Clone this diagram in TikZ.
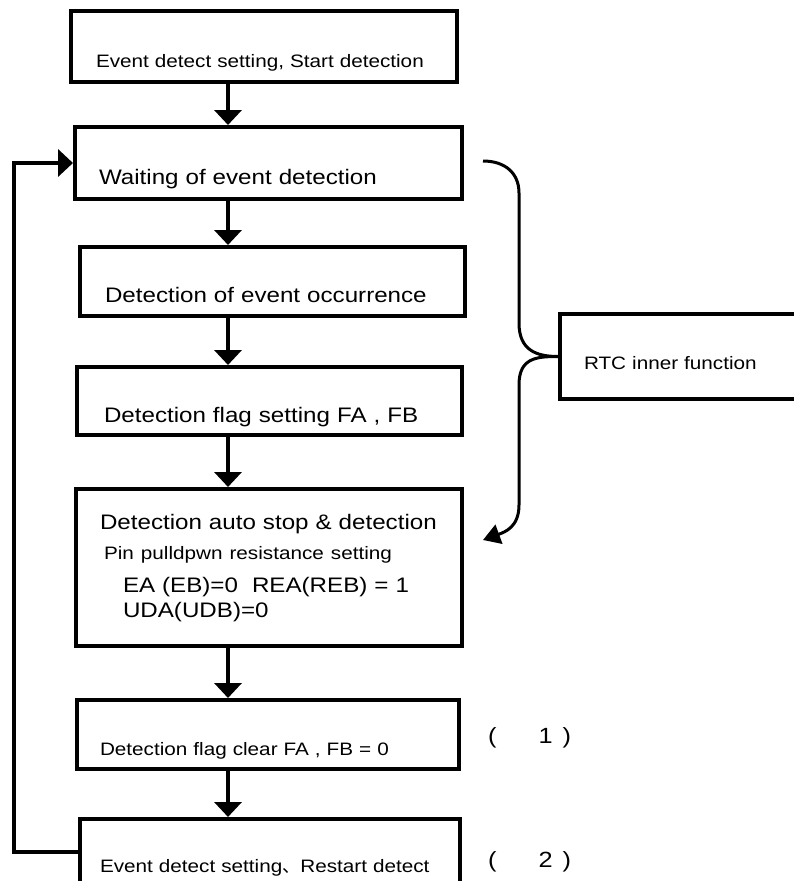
\documentclass[tikz,border=0pt]{standalone}
\usepackage{fontspec}
\setmainfont{Liberation Sans}[FakeStretch=1.15]
\newfontfamily\cjk{Noto Sans CJK SC}
\usetikzlibrary{arrows.meta}

\newcommand\bigtxt{\fontsize{21}{28}\selectfont}
\newcommand\smalltxt{\fontsize{18}{22}\selectfont}
\newcommand\notetxt{\fontsize{22}{26}\selectfont}

\tikzset{
    stepbox/.style={draw, line width=4pt, anchor=north west, inner ysep=0pt, align=left},
    flow/.style={-{Triangle[length=15pt,width=27pt]}, line width=4pt},
    brace/.style={line width=3pt},
}

\begin{document}
\begin{tikzpicture}[x=1pt, y=-1pt]
    \useasboundingbox (0,0) rectangle (794,881);

    \node[stepbox, font=\smalltxt, inner xsep=25pt, text width=336pt, text height=56pt, text depth=15pt]
        (start) at (69,9) {Event detect setting, Start detection};
    \node[stepbox, font=\bigtxt, inner xsep=24pt, text width=339pt, text height=57pt, text depth=15pt]
        (wait) at (73,125) {Waiting of event detection};
    \node[stepbox, font=\bigtxt, inner xsep=25pt, text width=335pt, text height=55pt, text depth=14pt]
        (occur) at (78,245) {Detection of event occurrence};
    \node[stepbox, font=\bigtxt, inner xsep=27pt, text width=331pt, text height=55pt, text depth=13pt]
        (flagset) at (75,365) {Detection flag setting FA , FB};
    \node[stepbox, font=\bigtxt, inner xsep=24pt, text width=338pt, text height=40pt, text depth=117pt]
        (autostop) at (74,487) {\mbox{Detection auto stop \& detection}\\[2pt]
            {\smalltxt\hspace*{4pt}Pin pulldpwn resistance setting}\\[5pt]
            \hspace*{23pt}EA (EB)=0\ \ REA(REB) = 1\\[-3pt]
            \hspace*{23pt}UDA(UDB)=0};
    \node[stepbox, font=\smalltxt, inner xsep=23pt, text width=336pt, text height=55pt, text depth=14pt]
        (flagclr) at (75,698) {Detection flag clear FA , FB = 0};
    \node[stepbox, font=\smalltxt, inner xsep=20pt, text width=340pt, text height=53pt, text depth=30pt]
        (restart) at (78,817) {Event detect setting{\cjk 、}Restart detect};

    \node[stepbox, font=\smalltxt, inner xsep=24pt, text width=300pt, text height=55pt, text depth=30pt]
        (rtc) at (558,312) {RTC inner function};

    \node[anchor=base west, font=\notetxt, inner sep=0pt] (note1) at (488,743) {(\hspace{42pt}1\hspace{10pt})};
    \node[anchor=base west, font=\notetxt, inner sep=0pt] (note2) at (488,867) {(\hspace{42pt}2\hspace{10pt})};

    % main flow
    \coordinate (ax) at (228,0);
    \foreach \a/\b in {start/wait, wait/occur, occur/flagset, flagset/autostop, autostop/flagclr, flagclr/restart}
        \draw[flow] (\a.south -| ax) -- (\b.north -| ax);

    % loop back
    \coordinate (loopbot) at (14,852);
    \draw[flow] (restart.west |- loopbot) -- (loopbot) |- (wait.west);

    % brace
    \coordinate (bracetop) at (483,161);
    \coordinate (bracetip) at (483,540);
    \draw[brace] (rtc.west) .. controls +(-22,0) and +(0,27) .. (519,323) -- (519,193)
        .. controls +(0,-20) and +(22,0) .. (bracetop);
    \draw[brace, -{Triangle[length=17pt,width=20pt]}] (rtc.west) .. controls +(-22,0) and +(0,-27) .. (519,385)
        -- (519,505) .. controls +(0,22) and +(22,-8) .. (bracetip);
\end{tikzpicture}
\end{document}
